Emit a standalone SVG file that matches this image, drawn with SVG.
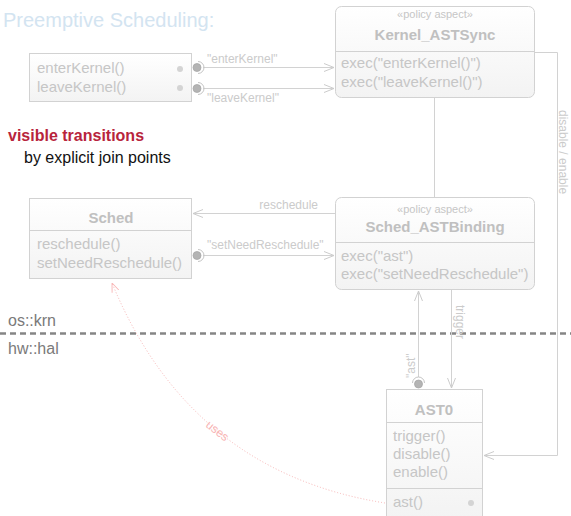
<svg xmlns="http://www.w3.org/2000/svg" width="571" height="516" viewBox="0 0 571 516">
<defs>
<linearGradient id="gbox" x1="0" y1="0" x2="0" y2="1">
<stop offset="0" stop-color="#ffffff"/>
<stop offset="1" stop-color="#f3f3f3"/>
</linearGradient>
<marker id="arr" viewBox="0 0 10 10" refX="10" refY="5" markerWidth="10" markerHeight="10" markerUnits="userSpaceOnUse" orient="auto">
<path d="M0,1 L10,5 L0,9" fill="none" stroke="#cccccc" stroke-width="1"/>
</marker>
<marker id="arrp" viewBox="0 0 10 10" refX="10" refY="5" markerWidth="9" markerHeight="9" markerUnits="userSpaceOnUse" orient="auto">
<path d="M0,1 L10,5 L0,9" fill="none" stroke="#f8b4b4" stroke-width="1"/>
</marker>
</defs>
<style>
.box{fill:url(#gbox);stroke:#d2d2d2;stroke-width:1}
.div{stroke:#d2d2d2;stroke-width:1}
.t{font-family:"Liberation Sans",Arial,sans-serif;fill:#c6c6c6}
.m{font-size:15px}
.h{font-size:15px;font-weight:bold;fill:#c0c0c0}
.st{font-size:11px}
.lbl{font-family:"Liberation Sans",Arial,sans-serif;font-size:12px;fill:#cbcbcb}
.ln{fill:none;stroke:#d2d2d2;stroke-width:1}
.dot{fill:#d4d4d4}
.lol{fill:#b4b4b4;stroke:#a8a8a8;stroke-width:0.8}
.arc{fill:none;stroke:#c4c4c4;stroke-width:1}
</style>
<rect width="571" height="516" fill="#ffffff"/>

<text x="3" y="27" font-family="Liberation Sans, Arial, sans-serif" font-size="20" fill="#d3e4f1">Preemptive Scheduling:</text>
<text x="8" y="141" font-family="Liberation Sans, Arial, sans-serif" font-size="16" font-weight="bold" fill="#b8243c">visible transitions</text>
<text x="24" y="163" font-family="Liberation Sans, Arial, sans-serif" font-size="16" fill="#111111">by explicit join points</text>

<line x1="0" y1="333.5" x2="571" y2="333.5" stroke="#858585" stroke-width="2.5" stroke-dasharray="6,4"/>
<text x="8" y="326" font-family="Liberation Sans, Arial, sans-serif" font-size="16" fill="#7a7a7a">os::krn</text>
<text x="8" y="354" font-family="Liberation Sans, Arial, sans-serif" font-size="16" fill="#7a7a7a">hw::hal</text>

<g id="connectors">
<line class="ln" x1="203" y1="67.5" x2="334" y2="67.5" marker-end="url(#arr)"/>
<line class="ln" x1="203" y1="88.5" x2="334" y2="88.5" marker-end="url(#arr)"/>
<text class="lbl" x="207" y="63">"enterKernel"</text>
<text class="lbl" x="207" y="102">"leaveKernel"</text>
<polyline class="ln" points="535,52.5 557.5,52.5 557.5,455.5 484,455.5" marker-end="url(#arr)"/>
<text class="lbl" transform="translate(559,110) rotate(90)">disable / enable</text>
<line class="ln" x1="434.5" y1="98" x2="434.5" y2="197"/>
<line class="ln" x1="335" y1="213.5" x2="193" y2="213.5" marker-end="url(#arr)"/>
<text class="lbl" x="318" y="209" text-anchor="end">reschedule</text>
<line class="ln" x1="203" y1="255.5" x2="334" y2="255.5" marker-end="url(#arr)"/>
<text class="lbl" x="207" y="249">"setNeedReschedule"</text>
<line class="ln" x1="418.5" y1="377" x2="418.5" y2="291" marker-end="url(#arr)"/>
<text class="lbl" transform="translate(415,378) rotate(-90)" font-size="13">"ast"</text>
<line class="ln" x1="451.5" y1="290" x2="451.5" y2="388" marker-end="url(#arr)"/>
<text class="lbl" transform="translate(456,305) rotate(90)">trigger</text>
<path d="M385,503 Q190,472 112,283" fill="none" stroke="#f8b4b4" stroke-width="1" stroke-dasharray="1,2" marker-end="url(#arrp)"/>
<text transform="translate(215,434) rotate(38)" text-anchor="middle" font-family="Liberation Sans, Arial, sans-serif" font-size="12" fill="#f8b4b4">uses</text>
</g>

<g id="kernel_iface">
<rect class="box" x="29.5" y="53.5" width="162" height="48"/>
<text class="t m" x="37" y="73">enterKernel()</text>
<text class="t m" x="37" y="92">leaveKernel()</text>
<circle class="dot" cx="180" cy="69" r="3"/>
<circle class="dot" cx="180" cy="88" r="3"/>
<circle class="lol" cx="197" cy="67.5" r="4"/>
<path class="arc" d="M198,61.5 A6,6 0 0 1 198,73.5"/>
<circle class="lol" cx="197" cy="88.5" r="4"/>
<path class="arc" d="M198,82.5 A6,6 0 0 1 198,94.5"/>
</g>

<g id="kernel_astsync">
<rect class="box" x="335.5" y="6.5" width="199" height="91" rx="6"/>
<line class="div" x1="335.5" y1="51.5" x2="534.5" y2="51.5"/>
<text class="t st" x="435" y="18" text-anchor="middle">«policy aspect»</text>
<text class="t h" x="435" y="40" text-anchor="middle">Kernel_ASTSync</text>
<text class="t m" x="341" y="68">exec("enterKernel()")</text>
<text class="t m" x="341" y="87">exec("leaveKernel()")</text>
</g>

<g id="sched">
<rect class="box" x="29.5" y="198.5" width="162" height="80"/>
<line class="div" x1="29.5" y1="230.5" x2="191.5" y2="230.5"/>
<text class="t h" x="111" y="223" text-anchor="middle">Sched</text>
<text class="t m" x="37" y="249">reschedule()</text>
<text class="t m" x="37" y="268">setNeedReschedule()</text>
<circle class="lol" cx="197" cy="255.5" r="4"/>
<path class="arc" d="M198,249.5 A6,6 0 0 1 198,261.5"/>
</g>

<g id="sched_astbinding">
<rect class="box" x="335.5" y="197.5" width="199" height="92" rx="6"/>
<line class="div" x1="335.5" y1="242.5" x2="534.5" y2="242.5"/>
<text class="t st" x="435" y="213" text-anchor="middle">«policy aspect»</text>
<text class="t h" x="435" y="232" text-anchor="middle">Sched_ASTBinding</text>
<text class="t m" x="341" y="261">exec("ast")</text>
<text class="t m" x="341" y="279">exec("setNeedReschedule")</text>
</g>

<g id="ast0">
<rect class="box" x="386.5" y="389.5" width="96" height="130"/>
<line class="div" x1="386.5" y1="422.5" x2="482.5" y2="422.5"/>
<line class="div" x1="386.5" y1="488.5" x2="482.5" y2="488.5"/>
<text class="t h" x="434" y="415" text-anchor="middle">AST0</text>
<text class="t m" x="393" y="441">trigger()</text>
<text class="t m" x="393" y="459">disable()</text>
<text class="t m" x="393" y="477">enable()</text>
<text class="t m" x="393" y="507">ast()</text>
<circle class="dot" cx="471" cy="503" r="3"/>
<circle class="lol" cx="418.5" cy="384" r="4"/>
<path class="arc" d="M412.5,383 A6,6 0 0 1 424.5,383"/>
</g>
</svg>
